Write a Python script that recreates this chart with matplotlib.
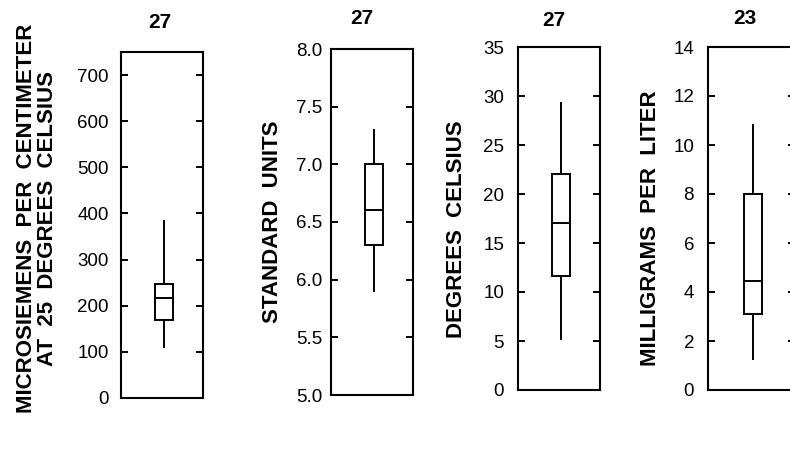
import matplotlib
matplotlib.use("Agg")
import matplotlib.pyplot as plt
import numpy as np

# sample counts shown above each box
counts = [27, 27, 27, 23]

# box statistics: lower whisker, 25th pct, median, 75th pct, upper whisker
whislo = [110, 5.9, 5.2, 1.26]
q1 = [170, 6.3, 11.6, 3.1]
med = [217, 6.6, 17.0, 4.45]
q3 = [248, 7.0, 22.0, 8.0]
whishi = [383, 7.3, 29.3, 10.8]

ylabels = [
    "MICROSIEMENS  PER  CENTIMETER\nAT  25  DEGREES  CELSIUS",
    "STANDARD  UNITS",
    "DEGREES  CELSIUS",
    "MILLIGRAMS  PER  LITER",
]
ylims = [(0, 750), (5.0, 8.0), (0, 35), (0, 14)]
yticks = [
    np.arange(0, 701, 100),
    np.arange(5.0, 8.01, 0.5),
    np.arange(0, 36, 5),
    np.arange(0, 15, 2),
]
tick_fmt = ["{:.0f}", "{:.1f}", "{:.0f}", "{:.0f}"]

W, H = 790, 450

# axes boxes in pixels: left, top, right, bottom
frames = [
    (121, 52, 203, 398),
    (331, 49, 413, 395),
    (518, 47, 600, 390),
    (708, 47, 795, 390),
]
label_xy = [(37, 218), (272, 222), (457, 229), (651, 228)]
title_xy = [(160, 22), (362, 19), (554, 20), (745, 18)]
tick_pad = [9, 6.5, 10, 10]

fig = plt.figure(figsize=(W / 100, H / 100), dpi=100)

for i in range(4):
    l, t, r, b = frames[i]
    ax = fig.add_axes([l / W, 1 - b / H, (r - l) / W, (b - t) / H])
    stats = [{
        "whislo": whislo[i], "q1": q1[i], "med": med[i],
        "q3": q3[i], "whishi": whishi[i], "fliers": [],
    }]
    box_w = 18 / (r - l)
    ax.bxp(stats, positions=[0.52], widths=box_w, showcaps=False,
           patch_artist=True,
           boxprops=dict(facecolor="white", edgecolor="black", linewidth=1.4),
           medianprops=dict(color="black", linewidth=1.4),
           whiskerprops=dict(color="black", linewidth=1.4))
    ax.set_xlim(0, 1)
    ax.set_ylim(*ylims[i])
    ax.set_xticks([])
    ax.set_yticks(yticks[i])
    ax.set_yticklabels([tick_fmt[i].format(v) for v in yticks[i]],
                       fontfamily="Liberation Sans", fontsize=13.5)
    ax.tick_params(axis="y", direction="in", left=True, right=True,
                   length=5, width=1.4, pad=tick_pad[i])
    for sp in ax.spines.values():
        sp.set_linewidth(1.5)

    lx, ly = label_xy[i]
    fig.text(lx / W, 1 - ly / H, ylabels[i], rotation=90, ha="center",
             va="center", fontfamily="Liberation Sans", fontweight="bold",
             fontsize=16, multialignment="center", linespacing=1.05)
    tx, ty = title_xy[i]
    fig.text(tx / W, 1 - ty / H, str(counts[i]), ha="center", va="center",
             fontfamily="Liberation Sans", fontweight="bold", fontsize=15)

fig.savefig("out.png", dpi=100)
